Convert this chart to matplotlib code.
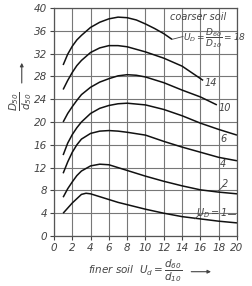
import matplotlib
matplotlib.use("Agg")
import matplotlib.pyplot as plt

plt.rcParams['font.family'] = ['Liberation Sans Narrow', 'DejaVu Sans']
plt.rcParams['mathtext.fontset'] = 'custom'
plt.rcParams['mathtext.it'] = 'Liberation Sans Narrow:italic'
plt.rcParams['mathtext.rm'] = 'Liberation Sans Narrow:italic'

# values, one curve per U_D
x_u1 = [1, 2, 3, 3.5, 4, 5, 6, 7, 8, 10, 12, 14, 16, 18, 20]
y_u1 = [4.0, 5.8, 7.3, 7.5, 7.4, 6.9, 6.4, 5.9, 5.5, 4.7, 4.0, 3.4, 3.0, 2.6, 2.3]

x_u2 = [1, 1.5, 2, 2.5, 3, 4, 5, 6, 7, 8, 10, 12, 14, 16, 18, 20]
y_u2 = [6.8, 8.3, 9.5, 10.6, 11.4, 12.3, 12.6, 12.5, 12.0, 11.5, 10.5, 9.6, 8.8, 8.1, 7.7, 7.4]

x_u4 = [1, 1.5, 2, 2.5, 3, 4, 5, 6, 7, 8, 10, 12, 14, 16, 18, 20]
y_u4 = [11.0, 13.0, 14.7, 16.0, 17.0, 18.0, 18.4, 18.5, 18.4, 18.2, 17.7, 16.6, 15.6, 14.7, 13.8, 13.2]

x_u6 = [1, 1.5, 2, 2.5, 3, 4, 5, 6, 7, 8, 10, 12, 14, 16, 18, 20]
y_u6 = [14.2, 16.3, 17.8, 19.0, 20.0, 21.5, 22.4, 22.9, 23.2, 23.3, 23.0, 22.2, 21.1, 19.8, 18.7, 17.7]

x_u10 = [1, 1.5, 2, 2.5, 3, 4, 5, 6, 7, 8, 9, 10, 12, 14, 16, 17.8]
y_u10 = [20.0, 21.5, 22.7, 23.8, 24.8, 26.1, 27.0, 27.6, 28.1, 28.3, 28.2, 27.9, 26.9, 25.6, 24.4, 23.0]

x_u14 = [1, 1.5, 2, 2.5, 3, 4, 5, 6, 7, 8, 10, 12, 14, 16.3]
y_u14 = [25.7, 27.3, 28.7, 29.9, 30.8, 32.2, 33.0, 33.4, 33.4, 33.2, 32.3, 31.2, 29.8, 27.3]

x_u18 = [1, 1.5, 2, 2.5, 3, 4, 5, 6, 7, 8, 9, 10, 11, 12, 12.9]
y_u18 = [30.0, 31.9, 33.3, 34.4, 35.2, 36.6, 37.5, 38.1, 38.4, 38.3, 37.9, 37.2, 36.4, 35.5, 34.5]

curves = [(x_u1, y_u1), (x_u2, y_u2), (x_u4, y_u4), (x_u6, y_u6),
          (x_u10, y_u10), (x_u14, y_u14), (x_u18, y_u18)]

x_ticks = [0, 2, 4, 6, 8, 10, 12, 14, 16, 18, 20]
y_ticks = [0, 4, 8, 12, 16, 20, 24, 28, 32, 36, 40]

gray = '#444444'

fig = plt.figure(figsize=(2.53, 2.86), dpi=100)
ax = fig.add_axes([0.2134, 0.1748, 0.7233, 0.7972])

for xs, ys in curves:
    ax.plot(xs, ys, color='#111111', lw=1.1, solid_capstyle='butt')

ax.set_xlim(0, 20)
ax.set_ylim(0, 40)
ax.set_xticks(x_ticks)
ax.set_yticks(y_ticks)
ax.grid(True, color='#777777', lw=0.8)
ax.set_axisbelow(True)
for s in ax.spines.values():
    s.set_color('#555555')
    s.set_linewidth(0.9)
ax.tick_params(colors=gray, labelsize=7.5, length=3, width=0.8, pad=2)
for lab in ax.get_xticklabels() + ax.get_yticklabels():
    lab.set_fontstyle('italic')

# curve labels
ax.text(15.8, 38.4, 'coarser soil', fontsize=7, style='italic', color=gray, ha='center', va='center')
ax.plot([12.9, 14.1], [34.5, 35.0], color=gray, lw=0.6)
ax.text(14.1, 34.8, r'$U_D=\dfrac{D_{60}}{D_{10}}=18$', fontsize=6.5, color=gray, ha='left', va='center')
ax.text(16.5, 26.9, '14', fontsize=7, style='italic', color=gray, ha='left', va='center')
ax.text(18.0, 22.4, '10', fontsize=7, style='italic', color=gray, ha='left', va='center')
ax.text(18.2, 17.1, '6', fontsize=7, style='italic', color=gray, ha='left', va='center')
ax.text(18.1, 12.7, '4', fontsize=7, style='italic', color=gray, ha='left', va='center')
ax.plot([17.9, 18.4], [7.8, 8.6], color=gray, lw=0.6)
ax.text(18.4, 9.1, '2', fontsize=7, style='italic', color=gray, ha='left', va='center')
ax.plot([15.4, 15.9], [3.0, 3.8], color=gray, lw=0.6)
ax.text(17.2, 4.0, r'$U_D=1$', fontsize=7, color=gray, ha='center', va='center')
ax.plot([19.0, 19.8], [3.9, 3.9], color=gray, lw=0.6)

# axis labels
fig.text(0.08, 0.645, r'$\dfrac{D_{50}}{d_{50}}$', rotation=90, fontsize=7.5, color=gray, ha='center', va='center')
fig.patches.append(matplotlib.patches.FancyArrowPatch((0.086, 0.70), (0.086, 0.79), transform=fig.transFigure,
                                                       arrowstyle='-|>', mutation_scale=5, color=gray, lw=0.8))
fig.text(0.72, 0.055, r'finer soil  $U_d=\dfrac{d_{60}}{d_{10}}$', fontsize=7.5, style='italic', color=gray,
         ha='right', va='center')
fig.patches.append(matplotlib.patches.FancyArrowPatch((0.745, 0.05), (0.845, 0.05), transform=fig.transFigure,
                                                       arrowstyle='-|>', mutation_scale=5, color=gray, lw=0.8))

fig.savefig('out.png', dpi=100)
